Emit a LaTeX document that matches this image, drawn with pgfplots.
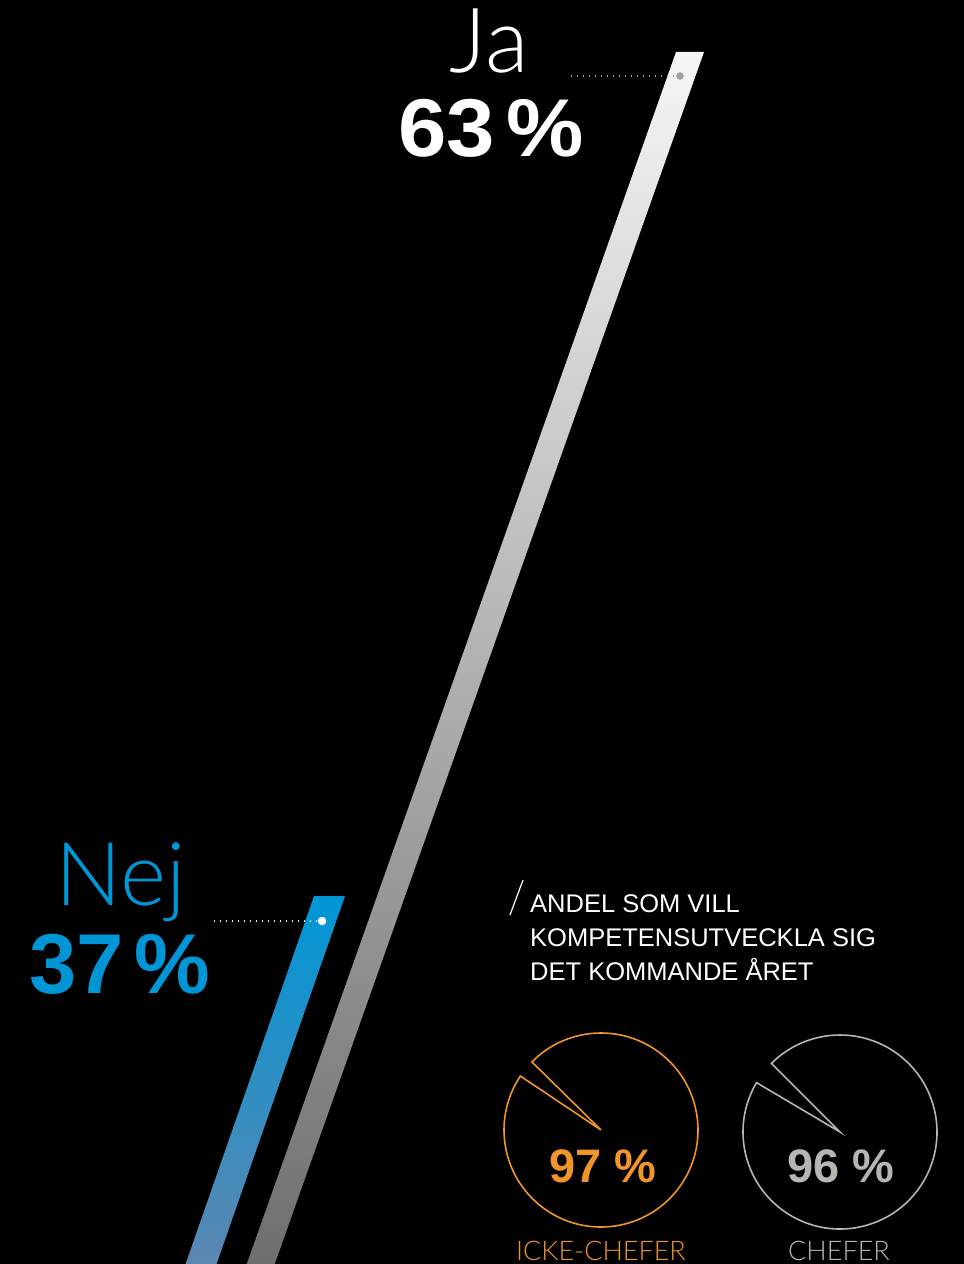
\documentclass[border=0pt]{standalone}
\usepackage{pgfplots}
\pgfplotsset{compat=1.18}
\usepackage{fontspec}
\setmainfont{Liberation Sans}
\newfontfamily\light{Lato Light}
\definecolor{nejblue}{HTML}{0096D6}
\definecolor{nejbot}{HTML}{6485AC}
\definecolor{jatop}{HTML}{F6F6F6}
\definecolor{jabot}{HTML}{6A6A6A}
\definecolor{jadot}{HTML}{A0A0A0}
\definecolor{orangec}{HTML}{F0952A}
\definecolor{piegray}{HTML}{B6B6B1}
\newcommand{\fs}[1]{\fontsize{#1bp}{#1bp}\selectfont}
\begin{document}
\begin{tikzpicture}
\useasboundingbox (0,0) rectangle (964bp,1264bp);
\fill[black] (0,0) rectangle (964bp,1264bp);
\clip (0,0) rectangle (964bp,1264bp);
\begin{axis}[at={(0,0)},anchor=south west,scale only axis,
  width=964bp,height=1264bp,xmin=0,xmax=964,ymin=0,ymax=1264,
  y dir=reverse,hide axis,clip=false]
% Ja bar (63 %)
\addplot[draw=none,top color=jatop,bottom color=jabot] coordinates {(676,52) (704,52) (262,1300) (234,1300)} -- cycle;
% Nej bar (37 %)
\addplot[draw=none,top color=nejblue,bottom color=nejbot] coordinates {(314,896) (345,896) (204,1300) (173,1300)} -- cycle;
% leaders
\addplot[mark=none,jadot,line width=1.3bp,dash pattern=on 1.3bp off 4.7bp] coordinates {(571,76) (676,76)};
\addplot[only marks,mark=*,mark size=3.5bp,jadot] coordinates {(680,76)};
\addplot[mark=none,white,line width=1.3bp,dash pattern=on 1.3bp off 4.7bp] coordinates {(214,921) (318,921)};
\addplot[only marks,mark=*,mark size=4bp,white] coordinates {(322,921)};
% labels
\node[anchor=base,text=white,inner sep=0,font=\light\fs{90}] at (axis cs:489,73) {Ja};
\node[anchor=base,text=white,inner sep=0,font=\bfseries\fs{82}] at (axis cs:491,157) {\scalebox{1.06}[1]{63\hspace{0.13em}\%}};
\node[anchor=base,text=nejblue,inner sep=0,font=\light\fs{88}] at (axis cs:121,905) {Nej};
\node[anchor=base,text=nejblue,inner sep=0,font=\bfseries\fs{85}] at (axis cs:120,993) {37\hspace{0.13em}\%};
% heading
\draw[white,line width=1.2bp] (axis cs:510,915) -- (axis cs:523,880);
\node[anchor=base west,text=white,inner sep=0,font=\fs{25.5}] at (axis cs:530,912) {ANDEL SOM VILL};
\node[anchor=base west,text=white,inner sep=0,font=\fs{25.5}] at (axis cs:530,946) {KOMPETENSUTVECKLA SIG};
\node[anchor=base west,text=white,inner sep=0,font=\fs{25.5}] at (axis cs:530,980) {DET KOMMANDE ÅRET};
% pies: 97 % and 96 %
\pgfmathsetmacro{\aA}{135.4}
\pgfmathsetmacro{\aB}{135}\pgfmathsetmacro{\bB}{135+3.6*(100-96)}
\draw[orangec,line width=1.6bp,line join=miter] (axis cs:601,1130) -- ++({\aA+3.6*(100-97)}:97bp) arc[start angle={\aA+3.6*(100-97)},end angle={\aA+360},radius=97bp] -- cycle;
\draw[piegray,line width=1.6bp,line join=miter] (axis cs:840,1132) -- ++({\bB}:97bp) arc[start angle={\bB},end angle={\aB+360},radius=97bp] -- cycle;
\node[anchor=base,text=orangec,inner sep=0,font=\bfseries\fs{47}] at (axis cs:603,1182) {97 \%};
\node[anchor=base,text=piegray,inner sep=0,font=\bfseries\fs{47}] at (axis cs:841,1182) {96 \%};
\node[anchor=base,text=orangec,inner sep=0,font=\light\fs{27}] at (axis cs:601,1260) {ICKE-CHEFER};
\node[anchor=base,text=piegray,inner sep=0,font=\light\fs{27}] at (axis cs:839,1260) {CHEFER};
\end{axis}
\end{tikzpicture}
\end{document}
